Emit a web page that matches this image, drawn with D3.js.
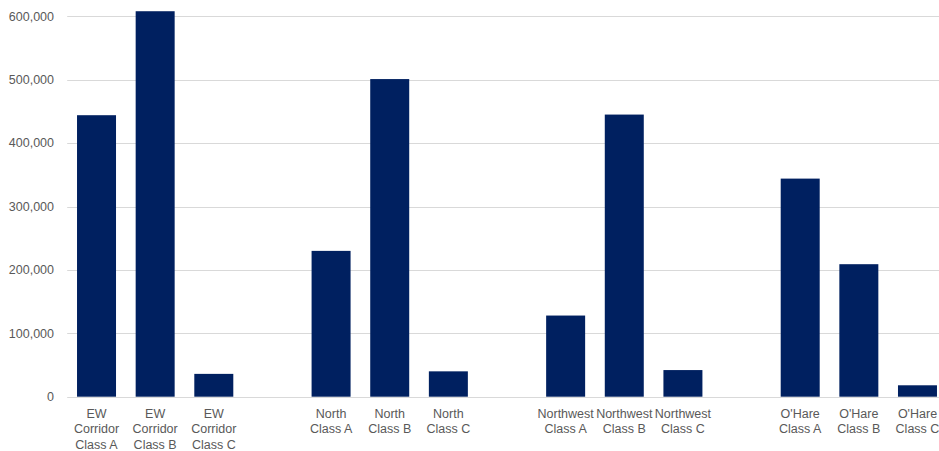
<!DOCTYPE html>
<html>
<head>
<meta charset="utf-8">
<script src="https://cdn.jsdelivr.net/npm/d3@7"></script>
<style>
  html, body { margin: 0; padding: 0; background: #ffffff; }
  svg { display: block; }
  text { font-family: "Liberation Sans", Arial, sans-serif; fill: #595959; }
</style>
</head>
<body>
<svg id="chart" width="939" height="451"></svg>
<script>
// Market areas and building classes
const groups = ["EW Corridor", "North", "Northwest", "O'Hare"];
const classes = ["Class A", "Class B", "Class C"];
// Square footage per area/class, in group order
const values = [
  444000, 608000, 36000,
  230000, 501000, 40000,
  128000, 445000, 42000,
  344000, 209000, 18000
];
const yTicks = [0, 100000, 200000, 300000, 400000, 500000, 600000];

// Build rows, with an empty slot between groups
const rows = [];
const slots = [];
groups.forEach((g, gi) => {
  classes.forEach((c, ci) => {
    const key = g + " " + c;
    rows.push({ key, group: g, cls: c, value: values[gi * classes.length + ci] });
    slots.push(key);
  });
  if (gi < groups.length - 1) slots.push("gap" + gi);
});

const svg = d3.select("#chart");
const plot = { left: 67.2, right: 946.8, top: 16.3, bottom: 396.7 };

const x = d3.scaleBand()
  .domain(slots)
  .range([plot.left, plot.right])
  .paddingInner(0.335)
  .paddingOuter(0.1675);

const y = d3.scaleLinear()
  .domain([0, 600000])
  .range([plot.bottom, plot.top]);

// Gridlines
svg.append("g")
  .selectAll("line")
  .data(yTicks)
  .join("line")
  .attr("x1", plot.left)
  .attr("x2", plot.right)
  .attr("y1", d => Math.round(y(d)) + 0.5)
  .attr("y2", d => Math.round(y(d)) + 0.5)
  .attr("stroke", "#d9d9d9")
  .attr("stroke-width", 1);

// Y axis labels
const fmt = d3.format(",");
svg.append("g")
  .selectAll("text")
  .data(yTicks)
  .join("text")
  .attr("x", 54)
  .attr("y", d => y(d))
  .attr("dy", "0.35em")
  .attr("text-anchor", "end")
  .attr("font-size", "12.5px")
  .text(d => fmt(d));

// Bars
svg.append("g")
  .selectAll("rect")
  .data(rows)
  .join("rect")
  .attr("x", d => x(d.key))
  .attr("width", x.bandwidth())
  .attr("y", d => y(d.value))
  .attr("height", d => y(0) - y(d.value))
  .attr("fill", "#002060");

// Category labels (group name words, then class)
const labels = svg.append("g")
  .selectAll("text")
  .data(rows)
  .join("text")
  .attr("text-anchor", "middle")
  .attr("font-size", "12.5px")
  .attr("x", d => x(d.key) + x.bandwidth() / 2)
  .attr("y", 417.5);

labels.selectAll("tspan")
  .data(d => d.group.split(" ").concat([d.cls]))
  .join("tspan")
  .attr("x", function () { return d3.select(this.parentNode).attr("x"); })
  .attr("dy", (d, i) => i === 0 ? 0 : 15.6)
  .text(d => d);
</script>
</body>
</html>
